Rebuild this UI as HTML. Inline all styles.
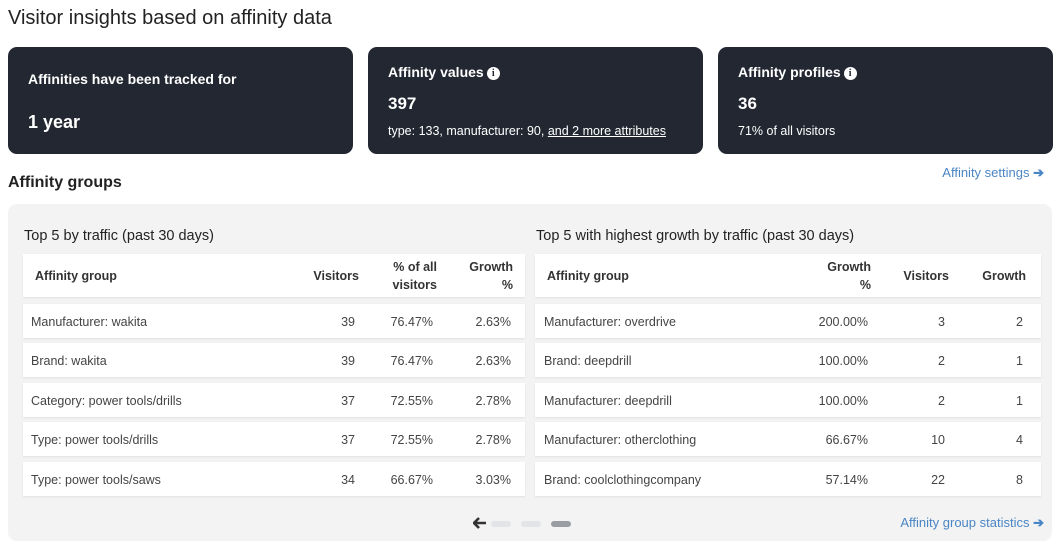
<!DOCTYPE html>
<html><head><style>
*{box-sizing:border-box;margin:0;padding:0}
body{width:1060px;height:549px;background:#fff;font-family:"Liberation Sans",sans-serif;color:#333;position:relative;overflow:hidden}
.a{position:absolute;white-space:nowrap}
.card{position:absolute;top:47px;height:107px;background:#222731;border-radius:9px;color:#fff}
.card .t{position:absolute;left:20px;font-weight:bold;font-size:14px}
.i{display:inline-block;width:13px;height:13px;border-radius:50%;background:#fff;color:#222731;font-size:10px;text-align:center;line-height:13px;font-weight:bold;font-family:"Liberation Serif",serif;vertical-align:1px;margin-left:3px}
.link{color:#4a86c5;font-size:13px}
.panel{position:absolute;left:8px;top:204px;width:1044px;height:337px;background:#f3f3f3;border-radius:9px}
.row{position:absolute;background:#fff;height:34px;box-shadow:0 1px 2px rgba(0,0,0,.08);font-size:12.5px;color:#444}
.row span{position:absolute;top:11px}
.hdr{height:43px;font-weight:bold;color:#333;font-size:12.5px}
.hdr span{line-height:18px}
.r{text-align:right}
</style></head><body>
<div class="a" style="left:8px;top:7px;font-size:20px;color:#222">Visitor insights based on affinity data</div>

<div class="card" style="left:8px;width:345px"><div class="t" style="top:24px">Affinities have been tracked for</div><div class="t" style="top:65px;font-size:18px">1 year</div></div>
<div class="card" style="left:368px;width:335px"><div class="t" style="top:17px">Affinity values<span class="i">i</span></div><div class="t" style="top:47px;font-size:17px">397</div><div class="t" style="top:77px;font-weight:normal;font-size:12.5px">type: 133, manufacturer: 90, <u>and 2 more attributes</u></div></div>
<div class="card" style="left:718px;width:335px"><div class="t" style="top:17px">Affinity profiles<span class="i">i</span></div><div class="t" style="top:47px;font-size:17px">36</div><div class="t" style="top:77px;font-weight:normal;font-size:12.5px">71% of all visitors</div></div>

<div class="a" style="left:8px;top:174px;font-size:16px;font-weight:bold;color:#222">Affinity groups</div>
<div class="a link" style="right:16px;top:165px">Affinity settings <b>➔</b></div>

<div class="panel"></div>
<div class="a" style="left:24px;top:228px;font-size:14.5px;color:#222">Top 5 by traffic (past 30 days)</div>
<div class="a" style="left:536px;top:228px;font-size:14.5px;color:#222">Top 5 with highest growth by traffic (past 30 days)</div>

<div class="row hdr" style="left:23px;top:254px;width:502px"><span style="left:12px;top:13px">Affinity group</span><span style="right:166px;top:13px">Visitors</span><span class="r" style="right:88px;top:4px">% of all<br>visitors</span><span class="r" style="right:12px;top:4px">Growth<br>%</span></div>
<div class="row hdr" style="left:535px;top:254px;width:506px"><span style="left:12px;top:13px">Affinity group</span><span class="r" style="right:170px;top:4px">Growth<br>%</span><span style="right:92px;top:13px">Visitors</span><span style="right:15px;top:13px">Growth</span></div>

<div id="L"></div>
<script>
var L=[["Manufacturer: wakita","39","76.47%","2.63%"],["Brand: wakita","39","76.47%","2.63%"],["Category: power tools/drills","37","72.55%","2.78%"],["Type: power tools/drills","37","72.55%","2.78%"],["Type: power tools/saws","34","66.67%","3.03%"]];
var R=[["Manufacturer: overdrive","200.00%","3","2"],["Brand: deepdrill","100.00%","2","1"],["Manufacturer: deepdrill","100.00%","2","1"],["Manufacturer: otherclothing","66.67%","10","4"],["Brand: coolclothingcompany","57.14%","22","8"]];
var tops=[304,343,383,422,462],h="";
for(var k=0;k<5;k++){var a=L[k],b=R[k],t=tops[k];
h+='<div class="row" style="left:23px;top:'+t+'px;width:502px"><span style="left:8px">'+a[0]+'</span><span style="right:170px">'+a[1]+'</span><span style="right:92px">'+a[2]+'</span><span style="right:14px">'+a[3]+'</span></div>';
h+='<div class="row" style="left:535px;top:'+t+'px;width:506px"><span style="left:9px">'+b[0]+'</span><span style="right:173px">'+b[1]+'</span><span style="right:96px">'+b[2]+'</span><span style="right:18px">'+b[3]+'</span></div>';}
document.getElementById("L").innerHTML=h;
</script>

<svg class="a" style="left:473px;top:517px" width="14" height="12" viewBox="0 0 14 12"><path d="M6 1 L1 6 L6 11 M1 6 H13" stroke="#333" stroke-width="2.6" fill="none"/></svg>
<div class="a" style="left:491px;top:521px;width:20px;height:6px;border-radius:3px;background:#e2e4e8"></div>
<div class="a" style="left:521px;top:521px;width:20px;height:6px;border-radius:3px;background:#e2e4e8"></div>
<div class="a" style="left:551px;top:521px;width:20px;height:6px;border-radius:3px;background:#9a9da3"></div>
<div class="a link" style="right:16px;top:515px">Affinity group statistics <b>➔</b></div>
</body></html>
